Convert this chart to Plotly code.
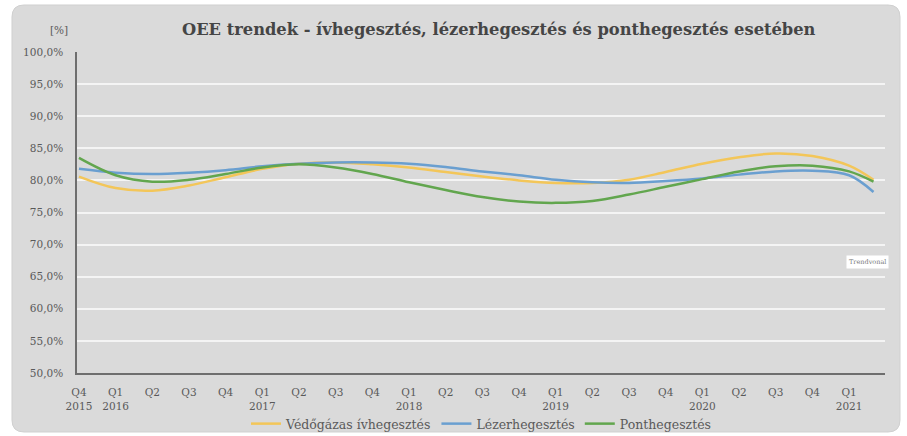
import plotly.graph_objects as go

# Months elapsed since the start of Q4 2015; one point per quarter, last one mid-Q2 2021
months = [0, 3, 6, 9, 12, 15, 18, 21, 24, 27, 30, 33, 36, 39, 42, 45, 48, 51, 54, 57, 60, 63, 65]
tick_months = [0, 3, 6, 9, 12, 15, 18, 21, 24, 27, 30, 33, 36, 39, 42, 45, 48, 51, 54, 57, 60, 63]
tick_labels = ["Q4<br>2015", "Q1<br>2016", "Q2", "Q3", "Q4", "Q1<br>2017", "Q2", "Q3", "Q4",
               "Q1<br>2018", "Q2", "Q3", "Q4", "Q1<br>2019", "Q2", "Q3", "Q4",
               "Q1<br>2020", "Q2", "Q3", "Q4", "Q1<br>2021"]

vedogazas = [80.6, 78.8, 78.4, 79.2, 80.5, 81.8, 82.6, 82.8, 82.5, 82.0, 81.3, 80.6,
             80.0, 79.6, 79.6, 80.1, 81.3, 82.6, 83.6, 84.2, 83.8, 82.3, 80.1]
lezer = [81.8, 81.2, 81.0, 81.2, 81.6, 82.2, 82.6, 82.8, 82.8, 82.6, 82.1, 81.4,
         80.8, 80.1, 79.7, 79.6, 79.9, 80.3, 80.9, 81.4, 81.5, 80.8, 78.2]
pont = [83.5, 80.8, 79.8, 80.1, 81.0, 82.0, 82.5, 82.0, 81.0, 79.7, 78.5, 77.4,
        76.7, 76.5, 76.8, 77.8, 79.0, 80.2, 81.4, 82.2, 82.3, 81.4, 79.8]

y_ticks = [50, 55, 60, 65, 70, 75, 80, 85, 90, 95, 100]
y_tick_text = [f"{v:.1f}".replace(".", ",") + "%" for v in y_ticks]

W, H = 907, 436
L, R, T, B = 77, 885, 52, 373


def px_to_paper(px, py):
    return (px - L) / (R - L), (B - py) / (B - T)


def rounded_rect(x0, y0, x1, y1, r):
    def p(x, y):
        a, b = px_to_paper(x, y)
        return f"{a:.5f},{b:.5f}"
    path = f"M {p(x0 + r, y0)} L {p(x1 - r, y0)} Q {p(x1, y0)} {p(x1, y0 + r)} "
    path += f"L {p(x1, y1 - r)} Q {p(x1, y1)} {p(x1 - r, y1)} "
    path += f"L {p(x0 + r, y1)} Q {p(x0, y1)} {p(x0, y1 - r)} "
    path += f"L {p(x0, y0 + r)} Q {p(x0, y0)} {p(x0 + r, y0)} Z"
    return path


serif = "DejaVu Serif"
fig = go.Figure()

series = [
    ("Védőgázas ívhegesztés", vedogazas, "#f3c659"),
    ("Lézerhegesztés", lezer, "#6a9fd0"),
    ("Ponthegesztés", pont, "#62a64e"),
]
for name, vals, color in series:
    fig.add_trace(go.Scatter(
        x=months, y=vals, name=name, mode="lines",
        line=dict(color=color, width=2.5, shape="spline", smoothing=1.0),
        hoverinfo="skip",
    ))

fig.add_shape(type="path", path=rounded_rect(12, 5, 900, 432, 12),
              xref="paper", yref="paper", fillcolor="#dadada",
              line=dict(color="#d0d0d0", width=1), layer="below")

fig.update_layout(
    width=W, height=H,
    margin=dict(l=L, r=W - R, t=T, b=H - B, autoexpand=False),
    paper_bgcolor="white",
    plot_bgcolor="rgba(0,0,0,0)",
    font=dict(family=serif, color="#595959", size=10),
    showlegend=True,
    legend=dict(orientation="h", x=0.5, xanchor="center",
                yref="container", y=1 - 424 / H, yanchor="middle",
                font=dict(family=serif, size=12.5, color="#595959"),
                bgcolor="rgba(0,0,0,0)", itemwidth=30, tracegroupgap=0),
    xaxis=dict(range=[-0.16, 65.94], tickmode="array", tickvals=tick_months,
               ticktext=tick_labels, showgrid=False, zeroline=False, automargin=False,
               showline=True, linecolor="#6e6e6e", linewidth=1.5, ticks="",
               ticklabelstandoff=9,
               tickfont=dict(family=serif, size=10.5, color="#595959")),
    yaxis=dict(range=[50, 100], tickmode="array", tickvals=y_ticks,
               ticktext=y_tick_text, showgrid=True, gridcolor="#f4f4f4",
               gridwidth=1.5, zeroline=False, showline=True, linecolor="#6e6e6e",
               linewidth=1.5, ticks="", ticklabelstandoff=10, automargin=False,
               tickfont=dict(family=serif, size=10.5, color="#595959")),
    annotations=[
        dict(text="<b>OEE trendek - ívhegesztés, lézerhegesztés és ponthegesztés esetében</b>",
             xref="paper", yref="paper", x=px_to_paper(499, 30)[0], y=px_to_paper(499, 30)[1],
             xanchor="center", yanchor="middle", showarrow=False,
             font=dict(family=serif, size=16.3, color="#454545")),
        dict(text="[%]", xref="paper", yref="paper",
             x=px_to_paper(70, 30)[0], y=px_to_paper(70, 30)[1],
             xanchor="right", yanchor="middle", showarrow=False,
             font=dict(family=serif, size=10.5, color="#595959")),
        dict(text="Trendvonal", xref="paper", yref="paper",
             x=px_to_paper(846, 262)[0], y=px_to_paper(846, 262)[1],
             xanchor="left", yanchor="middle", showarrow=False, bgcolor="white",
             borderpad=2, font=dict(family=serif, size=6.5, color="#7a7a7a")),
    ],
)

fig.write_html("out.html")
